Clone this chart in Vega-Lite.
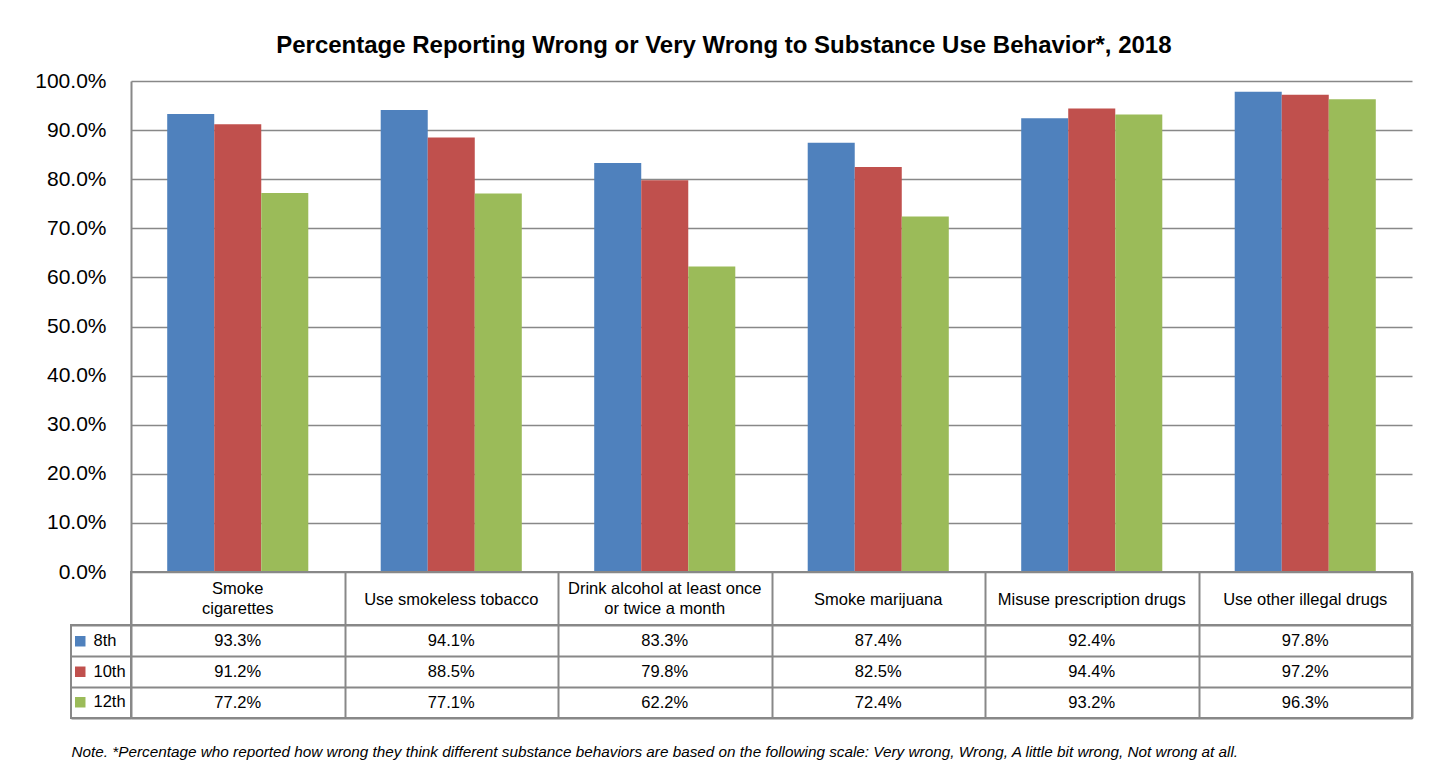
{
  "$schema": "https://vega.github.io/schema/vega-lite/v6.json",
  "padding": {"left": 34, "top": 34, "right": 5, "bottom": 5},
  "background": "white",
  "config": {
    "font": "Liberation Sans, Arial, sans-serif",
    "view": {"stroke": "#888888", "strokeWidth": 2}
  },
  "title": {
    "text": "Percentage Reporting Wrong or Very Wrong to Substance Use Behavior*, 2018",
    "fontSize": 24,
    "fontWeight": "bold",
    "color": "#000000",
    "anchor": "middle",
    "offset": 12
  },
  "columns": 2,
  "spacing": 0,
  "bounds": "flush",
  "align": "each",
  "resolve": {
    "scale": {"x": "independent", "y": "independent", "color": "independent"},
    "legend": {"color": "independent"}
  },
  "datasets": {
    "survey": [
      {"category": "Smoke\ncigarettes", "grade": "8th", "value": 0.933},
      {"category": "Smoke\ncigarettes", "grade": "10th", "value": 0.912},
      {"category": "Smoke\ncigarettes", "grade": "12th", "value": 0.772},
      {"category": "Use smokeless tobacco", "grade": "8th", "value": 0.941},
      {"category": "Use smokeless tobacco", "grade": "10th", "value": 0.885},
      {"category": "Use smokeless tobacco", "grade": "12th", "value": 0.771},
      {"category": "Drink alcohol at least once\nor twice a month", "grade": "8th", "value": 0.833},
      {"category": "Drink alcohol at least once\nor twice a month", "grade": "10th", "value": 0.798},
      {"category": "Drink alcohol at least once\nor twice a month", "grade": "12th", "value": 0.622},
      {"category": "Smoke marijuana", "grade": "8th", "value": 0.874},
      {"category": "Smoke marijuana", "grade": "10th", "value": 0.825},
      {"category": "Smoke marijuana", "grade": "12th", "value": 0.724},
      {"category": "Misuse prescription drugs", "grade": "8th", "value": 0.924},
      {"category": "Misuse prescription drugs", "grade": "10th", "value": 0.944},
      {"category": "Misuse prescription drugs", "grade": "12th", "value": 0.932},
      {"category": "Use other illegal drugs", "grade": "8th", "value": 0.978},
      {"category": "Use other illegal drugs", "grade": "10th", "value": 0.972},
      {"category": "Use other illegal drugs", "grade": "12th", "value": 0.963}
    ]
  },
  "concat": [
    {
      "data": {"values": [{}]},
      "width": 60,
      "height": 491,
      "view": {"stroke": null},
      "mark": {"type": "text", "text": ""},
      "encoding": {}
    },
    {
      "data": {"name": "survey"},
      "width": 1281,
      "height": 491,
      "view": {"stroke": null},
      "mark": {"type": "bar"},
      "encoding": {
        "x": {
          "field": "category",
          "type": "nominal",
          "sort": ["Smoke\ncigarettes", "Use smokeless tobacco", "Drink alcohol at least once\nor twice a month", "Smoke marijuana", "Misuse prescription drugs", "Use other illegal drugs"],
          "scale": {"paddingInner": 0, "paddingOuter": 0},
          "axis": null
        },
        "xOffset": {
          "field": "grade",
          "type": "nominal",
          "sort": ["8th", "10th", "12th"],
          "scale": {"paddingInner": 0, "paddingOuter": 0.77}
        },
        "y": {
          "field": "value",
          "type": "quantitative",
          "scale": {"domain": [0, 1]},
          "axis": {
            "values": [0, 0.1, 0.2, 0.3, 0.4, 0.5, 0.6, 0.7, 0.8, 0.9, 1],
            "format": ".1%",
            "title": null,
            "labelFontSize": 21,
            "labelPadding": 25,
            "labelColor": "#000000",
            "ticks": false,
            "domainColor": "#888888",
            "domainWidth": 2,
            "grid": true,
            "gridColor": "#888888",
            "gridWidth": 1.5
          }
        },
        "color": {
          "field": "grade",
          "type": "nominal",
          "scale": {"domain": ["8th", "10th", "12th"], "range": ["#4F81BD", "#C0504D", "#9BBB59"]},
          "legend": null
        }
      }
    },
    {
      "data": {"values": [{}]},
      "width": 60,
      "height": 53,
      "view": {"stroke": null},
      "mark": {"type": "text", "text": ""},
      "encoding": {}
    },
    {
      "data": {"name": "survey"},
      "transform": [{"filter": "datum.grade == '8th'"}],
      "width": 1281,
      "height": 53,
      "encoding": {
        "x": {
          "field": "category",
          "type": "nominal",
          "sort": ["Smoke\ncigarettes", "Use smokeless tobacco", "Drink alcohol at least once\nor twice a month", "Smoke marijuana", "Misuse prescription drugs", "Use other illegal drugs"],
          "scale": {"paddingInner": 0, "paddingOuter": 0},
          "axis": {"grid": true, "tickBand": "extent", "labels": false, "ticks": false, "domain": false, "title": null, "gridColor": "#888888", "gridWidth": 2}
        },
        "text": {"field": "category", "type": "nominal"}
      },
      "layer": [
        {
          "transform": [{"filter": "!test(/\\n/, datum.category)"}],
          "mark": {"type": "text", "fontSize": 16.5, "color": "#000000", "dy": 1}
        },
        {
          "transform": [{"filter": "test(/\\n/, datum.category)"}],
          "mark": {"type": "text", "fontSize": 16.5, "lineBreak": "\n", "lineHeight": 20, "color": "#000000", "dy": -10}
        }
      ]
    },
    {
      "data": {"name": "survey"},
      "transform": [{"filter": "datum.category == 'Smoke marijuana'"}],
      "width": 60,
      "height": 93,
      "mark": {"type": "square", "opacity": 0},
      "encoding": {
        "y": {
          "field": "grade",
          "type": "nominal",
          "sort": ["8th", "10th", "12th"],
          "scale": {"paddingInner": 0, "paddingOuter": 0},
          "axis": {"grid": true, "tickBand": "extent", "labels": false, "ticks": false, "domain": false, "title": null, "gridColor": "#888888", "gridWidth": 2}
        },
        "color": {
          "field": "grade",
          "type": "nominal",
          "scale": {"domain": ["8th", "10th", "12th"], "range": ["#4F81BD", "#C0504D", "#9BBB59"]},
          "legend": {
            "orient": "none",
            "legendX": 1,
            "legendY": 8,
            "padding": 0,
            "title": null,
            "symbolType": "square",
            "symbolSize": 110,
            "symbolOpacity": 1,
            "symbolStrokeWidth": 0,
            "labelFontSize": 16.5,
            "labelColor": "#000000",
            "labelOffset": 5,
            "rowPadding": 13.5
          }
        }
      }
    },
    {
      "data": {"name": "survey"},
      "width": 1281,
      "height": 93,
      "mark": {"type": "text", "fontSize": 16.5, "color": "#000000"},
      "encoding": {
        "x": {
          "field": "category",
          "type": "nominal",
          "sort": ["Smoke\ncigarettes", "Use smokeless tobacco", "Drink alcohol at least once\nor twice a month", "Smoke marijuana", "Misuse prescription drugs", "Use other illegal drugs"],
          "scale": {"paddingInner": 0, "paddingOuter": 0},
          "axis": {
            "grid": true,
            "tickBand": "extent",
            "labels": false,
            "ticks": false,
            "domain": false,
            "gridColor": "#888888",
            "gridWidth": 2,
            "title": "Note. *Percentage who reported how wrong they think different substance behaviors are based on the following scale: Very wrong, Wrong, A little bit wrong, Not wrong at all.",
            "titleAnchor": "start",
            "titleAlign": "left",
            "titleBaseline": "middle",
            "titleX": -60,
            "titleY": 33,
            "titleFontSize": 15.3,
            "titleFontStyle": "italic",
            "titleFontWeight": "normal",
            "titleColor": "#000000",
            "titleLimit": 0
          }
        },
        "y": {
          "field": "grade",
          "type": "nominal",
          "sort": ["8th", "10th", "12th"],
          "scale": {"paddingInner": 0, "paddingOuter": 0},
          "axis": {"grid": true, "tickBand": "extent", "labels": false, "ticks": false, "domain": false, "title": null, "gridColor": "#888888", "gridWidth": 2}
        },
        "text": {"field": "value", "type": "quantitative", "format": ".1%"}
      }
    }
  ]
}
